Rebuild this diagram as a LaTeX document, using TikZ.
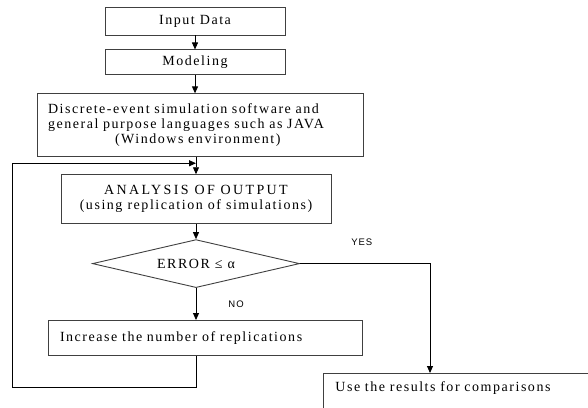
\documentclass[tikz,border=0pt]{standalone}
\usepackage{fontspec}
\setmainfont{Liberation Serif}[LetterSpace=11]
\newfontfamily\labelfont{Liberation Sans}[LetterSpace=10]
\usetikzlibrary{positioning,arrows.meta,shapes.geometric,calc}

\begin{document}
\begin{tikzpicture}[x=1pt, y=-1pt,
  box/.style={draw=black!75, line width=0.9pt, inner sep=0pt,
              font=\fontsize{14}{15}\selectfont},
  decision/.style={diamond, draw=black!75, line width=0.9pt, inner sep=0pt,
              aspect=4.3, minimum width=207pt, minimum height=48pt,
              font=\fontsize{14}{15}\selectfont},
  yesno/.style={font=\labelfont\fontsize{9.5}{11}\selectfont, inner sep=0pt},
  >={Triangle[length=7pt,width=6pt]}, line width=0.9pt]
\useasboundingbox (0,0) rectangle (588,407);
\clip (0,0) rectangle (588,407);
\node[box, minimum width=180pt, minimum height=28pt] (input) at (195,21) {Input Data};
\node[box, minimum width=180pt, minimum height=25pt, below=14pt of input] (model) {Modeling};
\node[box, minimum width=326pt, minimum height=63pt, text width=304pt, inner xsep=11pt,
      align=left, below=18pt of model, xshift=5pt] (sim)
  {Discrete-event simulation software and\\
   general purpose languages such as JAVA\\
   \hspace*{67pt}(Windows environment)};
\node[box, minimum width=270pt, minimum height=49pt, align=center,
      below=17pt of sim, xshift=-4pt] (analysis)
  {{\addfontfeature{LetterSpace=17}ANALYSIS OF OUTPUT}\\(using replication of simulations)};
\node[decision, below=15pt of analysis] (check) {ERROR ≤ α};
\node[box, minimum height=35pt, text width=290pt, inner xsep=12pt, align=left,
      below=32pt of check, xshift=9pt] (incr) {Increase the number of replications};
\node[box, anchor=north west, text width=300pt, inner xsep=12pt, align=left,
      text height=18pt, text depth=40pt] (use) at (323,373) {Use the results for comparisons};
\node[yesno, above right=18pt and 51pt of check.east] (yes) {YES};
\node[yesno, below right=12pt and 32pt of check.south] (no) {NO};
\coordinate (join) at ($(sim.south -| analysis.north)+(0,6)$);
\coordinate (corner) at (12,387);
% main flow
\draw[->] (input) -- (model);
\draw[->] (model.south) -- (model.south |- sim.north);
\draw[->] (sim.south -| analysis.north) -- (analysis.north);
\draw[->] (analysis.south -| check.north) -- (check.north);
\draw[->] (check.south) -- (check.south |- incr.north);
\draw[->] (check.east) -| ($(use.north west)+(107,0)$);
% replication loop
\draw[->] (incr.south -| check.south) |- (corner) |- (join);
\end{tikzpicture}
\end{document}
